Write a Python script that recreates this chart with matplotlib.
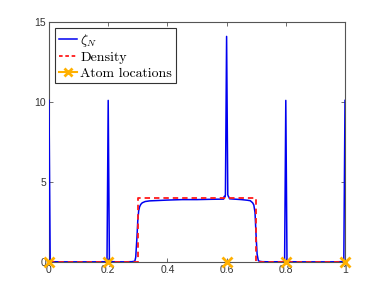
import matplotlib
matplotlib.use("Agg")
import matplotlib.pyplot as plt
from matplotlib.lines import Line2D

# Data
zeta_x = [0.0, 0.002, 0.004, 0.006, 0.05, 0.1, 0.15, 0.194, 0.196,
          0.2, 0.204, 0.206, 0.25, 0.28, 0.29, 0.293, 0.297, 0.3, 0.303, 0.306,
          0.31, 0.315, 0.325, 0.34, 0.4, 0.45, 0.5, 0.55, 0.59, 0.592, 0.594, 0.596,
          0.6, 0.604, 0.606, 0.608, 0.61, 0.65, 0.67, 0.68, 0.688, 0.692, 0.696, 0.7, 0.703,
          0.707, 0.71, 0.72, 0.75, 0.794, 0.796, 0.8, 0.804, 0.806,
          0.85, 0.9, 0.95, 0.994, 0.996, 1.0]
zeta_y = [10.1, 5.0, 0.1, 0.02, 0.01, 0.01, 0.01, 0.02, 0.1,
          10.1, 0.1, 0.02, 0.01, 0.02, 0.05, 0.3, 1.5, 2.6, 3.2, 3.45,
          3.6, 3.7, 3.78, 3.82, 3.87, 3.9, 3.9, 3.92, 3.93, 4.1, 4.05, 4.2,
          14.1, 4.2, 4.1, 4.05, 3.95, 3.9, 3.86, 3.83, 3.7, 3.56, 3.1, 1.5, 0.5,
          0.1, 0.05, 0.02, 0.01, 0.02, 0.1, 10.1, 0.1, 0.02,
          0.01, 0.01, 0.01, 0.02, 0.1, 10.1]

density_x = [0.0, 0.3, 0.3, 0.7, 0.7, 1.0]
density_y = [0.0, 0.0, 4.0, 4.0, 0.0, 0.0]

atoms_x = [0.0, 0.2, 0.6, 0.8, 1.0]
atoms_y = [0.0, 0.0, 0.0, 0.0, 0.0]

x_ticks = [0, 0.2, 0.4, 0.6, 0.8, 1]
x_ticklabels = ["0", "0.2", "0.4", "0.6", "0.8", "1"]
y_ticks = [0, 5, 10, 15]
y_ticklabels = ["0", "5", "10", "15"]

plt.rcParams['mathtext.fontset'] = 'cm'

fig = plt.figure(figsize=(3.82, 2.95), dpi=100)
ax = fig.add_axes([49/382, 1 - 262/295, (345 - 49)/382, (262 - 22)/295])

blue = '#0000f0'
red = '#ff1a1a'
orange = '#ffb000'

ax.plot(zeta_x, zeta_y, color=blue, lw=1.1, zorder=3)
ax.plot(density_x, density_y, color=red, lw=1.3, ls=(0, (3.0, 2.2)), zorder=4)
ax.plot(atoms_x, atoms_y, ls='none', marker='x', color=orange, ms=7, mew=2,
        zorder=6, clip_on=False)

ax.set_xlim(0, 1)
ax.set_ylim(0, 15)
ax.set_xticks(x_ticks)
ax.set_xticklabels(x_ticklabels)
ax.set_yticks(y_ticks)
ax.set_yticklabels(y_ticklabels)

spine_col = '#555555'
for s in ax.spines.values():
    s.set_color(spine_col)
    s.set_linewidth(0.8)
ax.tick_params(direction='in', length=3, width=0.6, colors=spine_col,
               labelcolor='#333333', labelsize=7.5, top=True, right=True, pad=2,
               labelfontfamily='Liberation Sans')

handles = [Line2D([], [], color=blue, lw=1.1),
           Line2D([], [], color=red, lw=1.3, ls=(0, (2.0, 1.5))),
           Line2D([], [], color=orange, lw=1.5, marker='x', ms=6, mew=2)]
labels = [r'$\zeta_N$', 'Density', 'Atom locations']
leg = ax.legend(handles, labels, loc='upper left', bbox_to_anchor=(0.012, 0.985),
                prop={'family': 'cmr10', 'size': 10}, frameon=True, fancybox=False,
                framealpha=1, edgecolor='#333333', handlelength=1.3, handletextpad=0.25,
                labelspacing=0.2, borderpad=0.25, borderaxespad=0.2)
leg.get_frame().set_linewidth(0.8)

fig.savefig('out.png', dpi=100)
